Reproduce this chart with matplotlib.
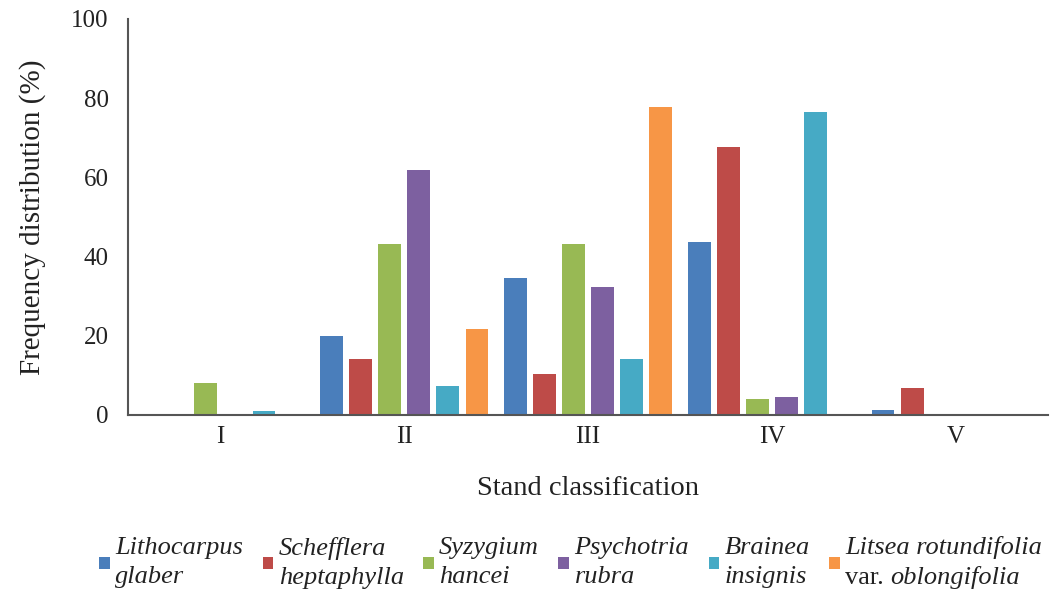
import matplotlib
matplotlib.use("Agg")
import matplotlib.pyplot as plt
import numpy as np
from matplotlib.patches import Rectangle
from matplotlib.offsetbox import TextArea, HPacker, VPacker, DrawingArea, AnchoredOffsetbox

plt.rcParams['font.family'] = ['Liberation Serif', 'DejaVu Serif']

categories = ['I', 'II', 'III', 'IV', 'V']
lithocarpus = [0, 20.0, 34.6, 43.7, 1.3]
schefflera = [0, 14.1, 10.4, 67.7, 6.8]
syzygium = [8.1, 43.2, 43.2, 4.0, 0]
psychotria = [0, 61.9, 32.3, 4.5, 0]
brainea = [1.0, 7.3, 14.1, 76.5, 0]
litsea = [0, 21.7, 77.8, 0, 0]

series = [lithocarpus, schefflera, syzygium, psychotria, brainea, litsea]
# each label: (line 1, line 2 prefix in roman, line 2 italic part)
labels = [
    ('Lithocarpus', '', 'glaber'),
    ('Schefflera', '', 'heptaphylla'),
    ('Syzygium', '', 'hancei'),
    ('Psychotria', '', 'rubra'),
    ('Brainea', '', 'insignis'),
    ('Litsea rotundifolia', 'var. ', 'oblongifolia'),
]
colors = ['#4a7ebb', '#be4b48', '#98b954', '#7d60a0', '#46aac5', '#f79646']

fig = plt.figure(figsize=(10.51, 5.90), dpi=100)
ax = fig.add_axes([0.122, 0.297, 0.875, 0.671])

x = np.arange(len(categories))
step = 0.158
width = 0.122
for i, (vals, c) in enumerate(zip(series, colors)):
    ax.bar(x + (i - 2.5) * step, vals, width=width, color=c, edgecolor='none')

ax.set_xlim(-0.5, len(categories) - 0.5)
ax.set_ylim(0, 100)
ax.set_yticks([0, 20, 40, 60, 80, 100])
ax.set_xticks(x)
ax.set_xticklabels(categories)
ax.tick_params(axis='both', length=0, labelsize=18, colors='#222222')
ax.tick_params(axis='x', pad=8)
ax.tick_params(axis='y', pad=14)
for s in ['top', 'right']:
    ax.spines[s].set_visible(False)
for s in ['left', 'bottom']:
    ax.spines[s].set_color('#555555')
    ax.spines[s].set_linewidth(1.5)

ax.set_xlabel('Stand classification', fontsize=20.5, labelpad=20, color='#222222')
ax.set_ylabel('Frequency distribution (%)', fontsize=21, labelpad=18, color='#222222')

# custom legend (mixed italic / roman text)
fs = 19
it_props = dict(fontsize=fs, fontstyle='italic', color='#222222')
rm_props = dict(fontsize=fs, fontstyle='normal', color='#222222')
entries = []
for (l1, pre, l2), c in zip(labels, colors):
    da = DrawingArea(7.5, 9, 0, 0)
    da.add_artist(Rectangle((0, 0), 7.5, 9, facecolor=c, edgecolor='none'))
    line1 = TextArea(l1, textprops=it_props)
    if pre:
        line2 = HPacker(children=[TextArea(pre, textprops=rm_props),
                                  TextArea(l2, textprops=it_props)], sep=0, pad=0)
    else:
        line2 = TextArea(l2, textprops=it_props)
    txt = VPacker(children=[line1, line2], sep=5, pad=0, align='left')
    entries.append(HPacker(children=[da, txt], sep=4, pad=0, align='center'))

legend_box = HPacker(children=entries, sep=14, pad=0, align='center')
anchored = AnchoredOffsetbox(loc='center', child=legend_box, frameon=False,
                             bbox_to_anchor=(0.543, 0.046),
                             bbox_transform=fig.transFigure, pad=0, borderpad=0)
fig.add_artist(anchored)

fig.savefig('out.png', dpi=100)
